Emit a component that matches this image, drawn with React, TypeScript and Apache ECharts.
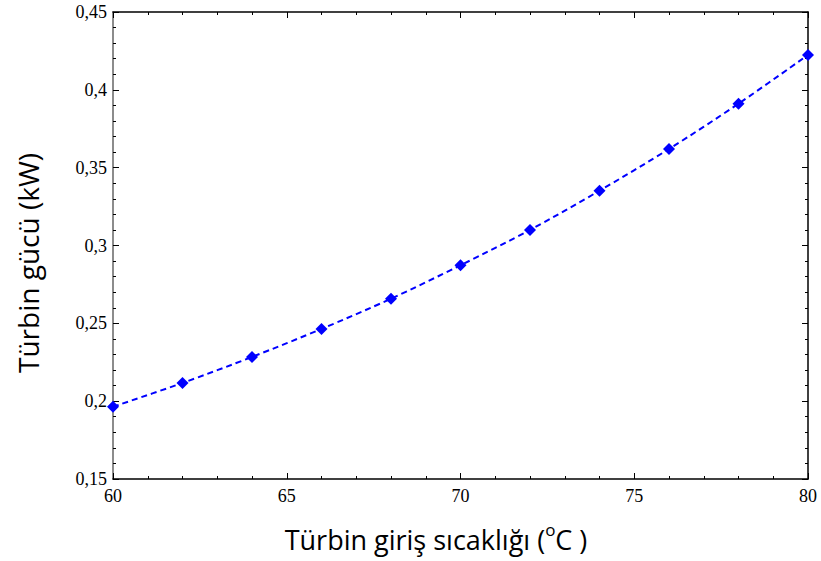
import React, { useEffect, useRef } from "react";
import * as echarts from "echarts";

const temps = [60, 62, 64, 66, 68, 70, 72, 74, 76, 78, 80];
const power = [0.1964, 0.2117, 0.2284, 0.2464, 0.2658, 0.2873, 0.3100, 0.3352, 0.3620, 0.3911, 0.4224];
const xTitle = "Türbin giriş sıcaklığı (";
const xTitleSup = "o";
const xTitleEnd = "C )";
const yTitle = "Türbin gücü (kW)";

const fmtY = (v: number) => String(+v.toFixed(2)).replace(".", ",");

export default function App() {
  const ref = useRef<HTMLDivElement>(null);
  useEffect(() => {
    if (!ref.current) return;
    const chart = echarts.init(ref.current, null, { renderer: "svg" });
    const serif = "'Liberation Serif', 'Times New Roman', serif";
    const sans = "'Open Sans', sans-serif";
    const axisCommon = {
      axisLine: { show: true, lineStyle: { color: "#000", width: 1.5 } },
      axisTick: { show: true, inside: true, length: 6, lineStyle: { color: "#000", width: 1 } },
      minorTick: { show: true, splitNumber: 5, length: 3, lineStyle: { color: "#000", width: 1 } },
      splitLine: { show: false },
    };
    chart.setOption({
      animation: false,
      backgroundColor: "#fff",
      grid: { left: 113, top: 12, right: 13, bottom: 82, containLabel: false },
      xAxis: [
        {
          type: "value", min: 60, max: 80, interval: 5, position: "bottom",
          ...axisCommon,
          axisLabel: { show: true, margin: 8, color: "#000", fontFamily: serif, fontSize: 18, formatter: (v: number) => String(v) },
        },
        {
          type: "value", min: 60, max: 80, interval: 5, position: "top",
          ...axisCommon,
          axisLabel: { show: false },
        },
      ],
      yAxis: [
        {
          type: "value", min: 0.15, max: 0.45, interval: 0.05, position: "left",
          ...axisCommon,
          axisLine: { show: true, lineStyle: { color: "#666", width: 1.5 } },
          axisLabel: { show: true, margin: 6, color: "#000", fontFamily: serif, fontSize: 18, formatter: fmtY },
        },
        {
          type: "value", min: 0.15, max: 0.45, interval: 0.05, position: "right",
          ...axisCommon,
          axisLabel: { show: false },
        },
      ],
      series: [
        {
          type: "line",
          data: temps.map((t, i) => [t, power[i]]),
          smooth: 0.3,
          symbol: "diamond",
          symbolSize: 12,
          clip: false,
          itemStyle: { color: "#0000ff" },
          lineStyle: { color: "#0000ff", width: 2, type: [6, 4] },
        },
      ],
      graphic: [
        {
          type: "text",
          x: 436, y: 539,
          style: {
            text: `{a|${xTitle}}{s|${xTitleSup}}{a|${xTitleEnd}}`,
            align: "center", verticalAlign: "middle",
            rich: {
              a: { fontFamily: sans, fontSize: 27, fill: "#000", lineHeight: 36 },
              s: { fontFamily: sans, fontSize: 17, fill: "#000", verticalAlign: "top", lineHeight: 17, padding: [0, 0, 14, 0] },
            },
          },
        },
        {
          type: "text",
          x: 28, y: 263, rotation: Math.PI / 2,
          style: {
            text: yTitle, align: "center", verticalAlign: "middle",
            fontFamily: sans, fontSize: 28, fill: "#000",
          },
        },
      ],
    });
    return () => chart.dispose();
  }, []);
  return <div ref={ref} style={{ position: "fixed", left: 0, top: 0, width: 821, height: 561, background: "#fff" }} />;
}
